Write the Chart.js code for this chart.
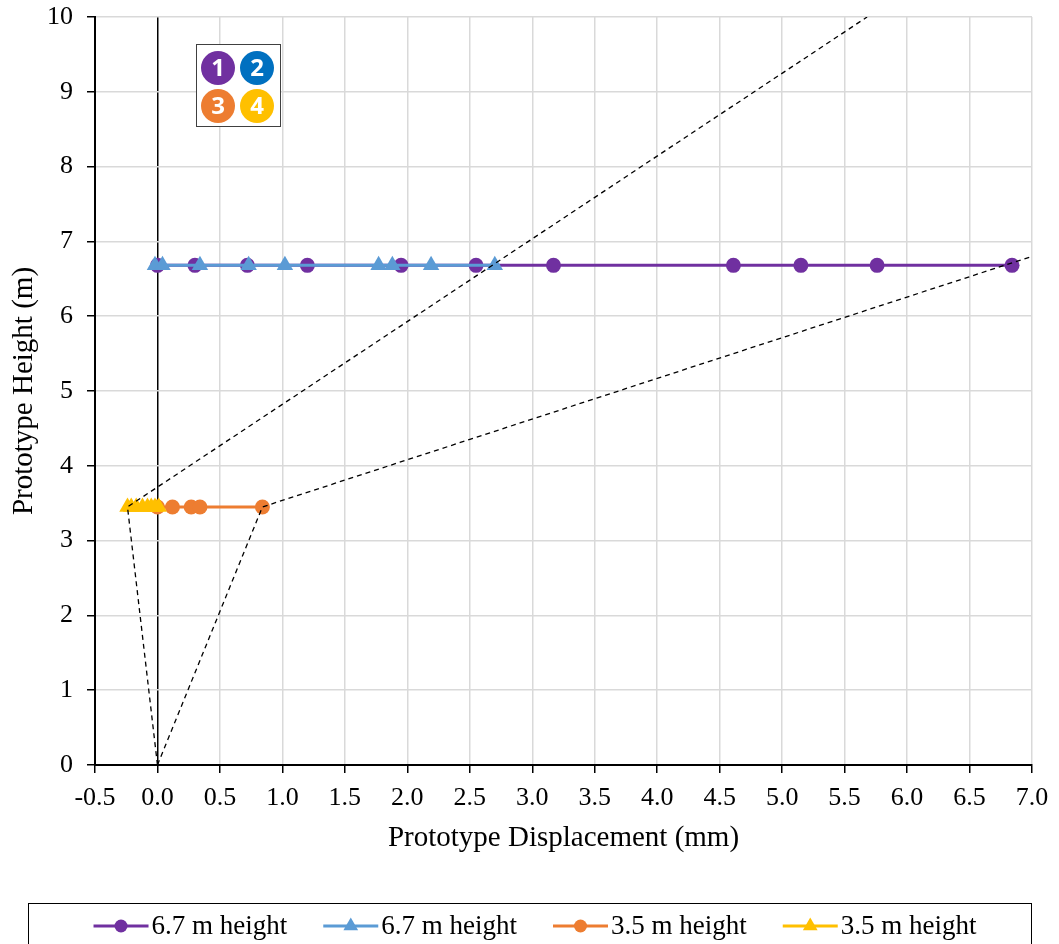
<!DOCTYPE html>
<html>
<head>
<meta charset="utf-8">
<script src="https://cdn.jsdelivr.net/npm/chart.js@4/dist/chart.umd.min.js"></script>
<style>
  html, body { margin: 0; padding: 0; background: #fff; }
  #wrap { width: 1059px; height: 944px; position: relative; }
</style>
</head>
<body>
<div id="wrap"><canvas id="chart"></canvas></div>
<script>
// Storey level of each recorded series (m)
const seriesLabels = ['6.7 m height', '6.7 m height', '3.5 m height', '3.5 m height'];
const seriesHeights = [6.68, 6.68, 3.45, 3.45];
const seriesColors = ['#7030A0', '#5B9BD5', '#ED7D31', '#FFC000'];
const seriesMarkers = ['circle', 'triangle', 'circle', 'triangle'];

// Measured displacements (mm) for each sensor series
const disp1 = [0.00, 0.30, 0.72, 1.20, 1.95, 2.55, 3.17, 4.61, 5.15, 5.76, 6.84];
const disp2 = [-0.02, 0.04, 0.34, 0.73, 1.02, 1.77, 1.88, 2.19, 2.70];
const disp3 = [0.00, 0.12, 0.27, 0.34, 0.84];
const disp4 = [-0.24, -0.21, -0.17, -0.12, -0.08, -0.05, -0.02, 0.01];

// Deformed-shape envelopes (dashed)
const envelopeAX = [0.00, -0.24, 5.68];
const envelopeAY = [0, 3.45, 10];
const envelopeBX = [0.00, 0.84, 7.00];
const envelopeBY = [0, 3.45, 6.80];

// Axis ticks
const xTickValues = [-0.5, 0.0, 0.5, 1.0, 1.5, 2.0, 2.5, 3.0, 3.5, 4.0, 4.5, 5.0, 5.5, 6.0, 6.5, 7.0];
const yTickValues = [0, 1, 2, 3, 4, 5, 6, 7, 8, 9, 10];

// Inset badge numbers and colours
const badgeNumbers = ['1', '2', '3', '4'];
const badgeColors = ['#7030A0', '#0070C0', '#ED7D31', '#FFC000'];

const dispSets = [disp1, disp2, disp3, disp4];
const drawOrder = [4, 3, 2, 1];

const seriesDatasets = dispSets.map((xs, i) => ({
  label: seriesLabels[i],
  data: xs.map(x => ({ x: x, y: seriesHeights[i] })),
  showLine: true,
  borderColor: seriesColors[i],
  backgroundColor: seriesColors[i],
  borderWidth: 3,
  pointStyle: seriesMarkers[i],
  pointRadius: seriesMarkers[i] === 'triangle' ? 9.5 : 7.5,
  pointBorderWidth: 0,
  order: drawOrder[i]
}));

const envelopeDataset = (xs, ys) => ({
  label: '',
  data: xs.map((x, k) => ({ x: x, y: ys[k] })),
  showLine: true,
  borderColor: '#000',
  borderWidth: 1.3,
  borderDash: [5, 4],
  pointRadius: 0,
  order: 0
});

const serif = '"Liberation Serif", "Times New Roman", serif';

const keyPlugin = {
  id: 'seriesKey',
  afterDraw(chart) {
    const ctx = chart.ctx;
    ctx.save();

    // Bottom legend frame
    ctx.strokeStyle = '#000';
    ctx.lineWidth = 1;
    ctx.strokeRect(28.5, 903.5, 1003, 60);

    ctx.font = '27px ' + serif;
    ctx.textBaseline = 'middle';
    ctx.textAlign = 'left';
    const lineLen = 55, gap = 3, itemGap = 36, cy = 926;
    const widths = seriesLabels.map(t => lineLen + gap + ctx.measureText(t).width);
    const total = widths.reduce((a, b) => a + b, 0) + itemGap * (widths.length - 1);
    let x = 535 - total / 2;
    seriesLabels.forEach((t, i) => {
      ctx.strokeStyle = seriesColors[i];
      ctx.lineWidth = 3;
      ctx.beginPath();
      ctx.moveTo(x, cy);
      ctx.lineTo(x + lineLen, cy);
      ctx.stroke();
      ctx.fillStyle = seriesColors[i];
      Chart.helpers.drawPoint(ctx, {
        pointStyle: seriesMarkers[i],
        radius: seriesMarkers[i] === 'triangle' ? 8.5 : 6.5,
        rotation: 0,
        borderWidth: 0
      }, x + lineLen / 2, cy);
      ctx.fillStyle = '#000';
      ctx.fillText(t, x + lineLen + gap, cy + 1);
      x += widths[i] + itemGap;
    });

    // Sensor badge inset
    ctx.fillStyle = '#fff';
    ctx.fillRect(196, 44, 85, 83);
    ctx.strokeStyle = '#404040';
    ctx.lineWidth = 1;
    ctx.strokeRect(196.5, 44.5, 84, 82);
    const centres = [[218, 68], [257, 68], [218, 106], [257, 106]];
    ctx.font = 'bold 24px "Open Sans", Lato, sans-serif';
    ctx.textAlign = 'center';
    ctx.textBaseline = 'middle';
    centres.forEach((c, i) => {
      ctx.fillStyle = badgeColors[i];
      ctx.beginPath();
      ctx.arc(c[0], c[1], 17, 0, Math.PI * 2);
      ctx.fill();
      ctx.fillStyle = '#fff';
      ctx.fillText(badgeNumbers[i], c[0], c[1] + 1);
    });
    ctx.restore();
  }
};

new Chart(document.getElementById('chart'), {
  type: 'scatter',
  data: {
    datasets: [
      ...seriesDatasets,
      envelopeDataset(envelopeAX, envelopeAY),
      envelopeDataset(envelopeBX, envelopeBY)
    ]
  },
  options: {
    responsive: true,
    maintainAspectRatio: false,
    animation: false,
    layout: { padding: { left: 0, top: 17, right: 27, bottom: 41 } },
    plugins: {
      legend: { display: false },
      tooltip: { enabled: false }
    },
    scales: {
      x: {
        type: 'linear',
        min: -0.5,
        max: 7.0,
        afterBuildTicks: s => { s.ticks = xTickValues.map(v => ({ value: v })); },
        afterFit: s => { s.height = 138; },
        ticks: {
          font: { family: serif, size: 26 },
          color: '#000',
          padding: 10,
          maxRotation: 0,
          callback: v => Number(v).toFixed(1)
        },
        grid: {
          color: c => (c.tick && c.tick.value === 0) ? '#000' : '#D9D9D9',
          lineWidth: 1.5,
          tickColor: '#000',
          tickLength: 8,
          tickWidth: 1.5
        },
        border: { color: '#000', width: 2 },
        title: {
          display: true,
          text: 'Prototype Displacement (mm)',
          font: { family: serif, size: 29 },
          color: '#000',
          padding: { top: 0, bottom: 47 }
        }
      },
      y: {
        type: 'linear',
        min: 0,
        max: 10,
        afterBuildTicks: s => { s.ticks = yTickValues.map(v => ({ value: v })); },
        afterFit: s => { s.width = 95; s.paddingTop = 0; s.paddingBottom = 0; },
        ticks: {
          font: { family: serif, size: 26 },
          color: '#000',
          padding: 14
        },
        grid: {
          color: '#D9D9D9',
          lineWidth: 1.5,
          tickColor: '#000',
          tickLength: 8,
          tickWidth: 1.5
        },
        border: { color: '#000', width: 2 },
        title: {
          display: true,
          text: 'Prototype Height (m)',
          font: { family: serif, size: 29 },
          color: '#000',
          padding: { top: 7, bottom: 0 }
        }
      }
    }
  },
  plugins: [keyPlugin]
});
</script>
</body>
</html>
